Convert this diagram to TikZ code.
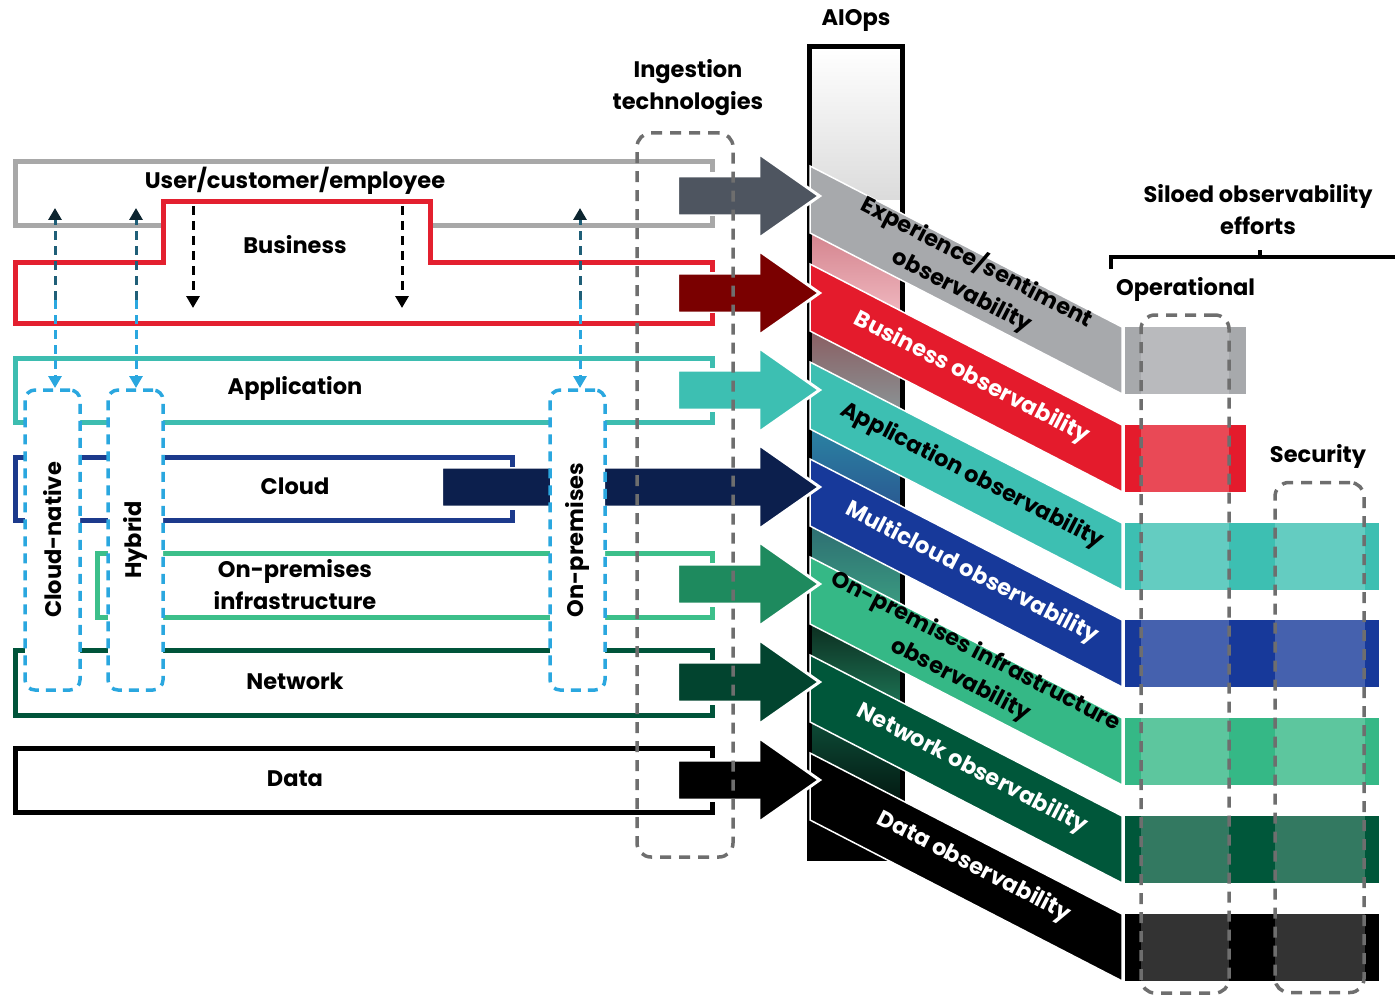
\documentclass[tikz,border=0pt]{standalone}
\usepackage{fontspec}
\setmainfont{Poppins}
\usetikzlibrary{arrows.meta,shapes.arrows}

\definecolor{lanegray}{HTML}{A8A8A8}
\definecolor{lanered}{HTML}{E3202F}
\definecolor{laneteal}{HTML}{3DBDB0}
\definecolor{laneblue}{HTML}{1C3A8C}
\definecolor{lanegreen}{HTML}{3CBF8A}
\definecolor{lanedkgreen}{HTML}{00543A}
\definecolor{bgray}{HTML}{A7A9AC}
\definecolor{bred}{HTML}{E41B2C}
\definecolor{bteal}{HTML}{3DBFB2}
\definecolor{bblue}{HTML}{17399A}
\definecolor{bgreen}{HTML}{35B886}
\definecolor{bdkgreen}{HTML}{00573A}
\definecolor{bblack}{HTML}{000000}
\definecolor{agray}{HTML}{4E5560}
\definecolor{ared}{HTML}{7A0000}
\definecolor{anavy}{HTML}{0C1F4D}
\definecolor{agreen}{HTML}{1E8A5E}
\definecolor{adkgreen}{HTML}{02442F}
\definecolor{dashcyan}{HTML}{2AA7DF}
\definecolor{dashteal}{HTML}{1F5F78}
\definecolor{tipdark}{HTML}{0D2530}
\definecolor{dashgray}{HTML}{6E6E6E}

\tikzset{
    lbl/.style={font=\bfseries\fontsize{22.5}{32}\selectfont, align=center, inner sep=0pt},
    lane/.style={line width=5pt},
    vbox/.style={draw=dashcyan, fill=white, line width=3.5pt, dash pattern=on 10pt off 7pt,
        rounded corners=10pt, minimum width=55pt, minimum height=300pt, inner sep=0pt},
    gbox/.style={draw=dashgray, line width=3.5pt, dash pattern=on 11pt off 8pt,
        rounded corners=14pt, inner sep=0pt},
    blockarrow/.style={single arrow, draw=white, line width=3pt, inner xsep=0pt, inner ysep=18.5pt,
        single arrow head extend=22.5pt, single arrow tip angle=70, anchor=west},
    updash/.style={line width=3pt, dash pattern=on 9pt off 6pt},
}

\begin{document}
\begin{tikzpicture}[x=1pt, y=-1pt]
    \useasboundingbox (0,0) rectangle (1395,995);

    % AIOps column
    \shade[top color=white, bottom color=black!14] (810,48) rectangle (902,200);
    \fill[black] (810,800) rectangle (902,858);
    \foreach \ra/\rb/\ca/\cb in {327/425/D4848E/EFB6BE, 425/523/8A5E62/8A9294, 523/620/2A82A2/2A5A92,
        620/718/2E6E72/3A9A80, 718/816/0C2E20/1C7052, 816/914/0D4A36/031A12} {
        \definecolor{gtop}{HTML}{\ca}
        \definecolor{gbot}{HTML}{\cb}
        \shade[top color=gtop, bottom color=gbot] (810,\ra-94) -- (902,\ra-47) -- (902,\rb-114) -- (810,\rb-161) -- cycle;
    }
    \draw[line width=5pt] (809.5,46.5) rectangle (902.5,858);
    \node[lbl, anchor=south] (aiops) at (856,32) {AIOps};

    % slanted bands
    \foreach \r/\c in {327/bgray, 425/bred, 523/bteal, 620/bblue, 718/bgreen, 816/bdkgreen, 914/bblack}
        \filldraw[fill=\c, draw=white, line width=1.5pt] (810,\r-161) -- (1122,\r) -- (1122,\r+67) -- (810,\r-94) -- cycle;

    \node[lbl, rotate=-27.3] (obsux) at (970,276) {Experience/sentiment\\observability};
    \node[lbl, rotate=-27.3, text=white] (obsbiz) at (972,378) {Business observability};
    \node[lbl, rotate=-27.3] (obsapp) at (972,476) {Application observability};
    \node[lbl, rotate=-27.3, text=white] (obscloud) at (972,573) {Multicloud observability};
    \node[lbl, rotate=-27.3] (obsonprem) at (968,666) {On-premises infrastructure\\observability};
    \node[lbl, rotate=-27.3, text=white] (obsnet) at (972,769) {Network observability};
    \node[lbl, rotate=-27.3, text=white] (obsdata) at (974,867) {Data observability};

    % block arrows
    \node[blockarrow, fill=agray, minimum height=142pt] (arrux) at (676,196) {};
    \node[blockarrow, fill=ared, minimum height=142pt] (arrbiz) at (676,293) {};
    \node[blockarrow, fill=bteal, minimum height=142pt] (arrapp) at (676,390) {};
    \node[blockarrow, fill=anavy, minimum height=378pt] (arrcloud) at (440,487) {};
    \node[blockarrow, fill=agreen, minimum height=142pt] (arronprem) at (676,584) {};
    \node[blockarrow, fill=adkgreen, minimum height=142pt] (arrnet) at (676,682) {};
    \node[blockarrow, fill=black, minimum height=142pt] (arrdata) at (676,780) {};

    % lanes
    \draw[lane, lanegray] (712,172) -- (712,162) -- (15,162) -- (15,226) -- (163,226);
    \draw[lane, lanegray] (430,226) -- (712,226) -- (712,216);
    \draw[lane, lanered] (712,272) -- (712,262) -- (430,262) -- (430,202) -- (163,202) -- (163,262)
        -- (15,262) -- (15,323) -- (712,323) -- (712,313);
    \draw[lane, laneteal] (712,368) -- (712,358) -- (15,358) -- (15,422) -- (712,422) -- (712,412);
    \draw[lane, laneblue] (512,467) -- (512,457) -- (15,457) -- (15,520) -- (512,520) -- (512,510);
    \draw[lane, lanegreen] (712,563) -- (712,553) -- (97,553) -- (97,617) -- (712,617) -- (712,607);
    \draw[lane, lanedkgreen] (712,660) -- (712,650) -- (15,650) -- (15,715) -- (712,715) -- (712,705);
    \draw[lane, black] (712,758) -- (712,748) -- (15,748) -- (15,812) -- (712,812) -- (712,802);

    \node[lbl] (ux) at (295,181) {User/customer/employee};
    \node[lbl] (biz) at (295,245) {Business};
    \node[lbl] (app) at (295,388) {Application};
    \node[lbl] (cloud) at (295,486) {Cloud};
    \node[lbl] (onprem) at (295,585) {On-premises\\infrastructure};
    \node[lbl] (net) at (295,681) {Network};
    \node[lbl] (data) at (295,779) {Data};

    % deployment boxes
    \node[vbox] (cn) at (52.5,540) {\rotatebox{90}{\bfseries\fontsize{22.5}{25}\selectfont Cloud-native}};
    \node[vbox] (hy) at (135.5,540) {\rotatebox{90}{\bfseries\fontsize{22.5}{25}\selectfont Hybrid}};
    \node[vbox] (op) at (577.5,540) {\rotatebox{90}{\bfseries\fontsize{22.5}{25}\selectfont On-premises}};

    \foreach \n/\x in {cn/55, hy/136, op/580} {
        \coordinate (\n top) at (\x,208);
        \coordinate (\n mid) at (\x,300);
        \draw[updash, dashteal, -{Triangle[width=13pt,length=12pt,fill=tipdark,color=tipdark]}] (\n mid) -- (\n top);
        \draw[updash, dashcyan, -{Triangle[width=13pt,length=12pt]}] (\n mid) -- (\x,388);
    }

    \foreach \n/\x in {b1/193, b2/402} {
        \coordinate (\n top) at (\x,206);
        \coordinate (\n bot) at (\x,308);
        \draw[updash, black, -{Triangle[width=13pt,length=12pt]}] (\n top) -- (\n bot);
    }

    % ingestion
    \node[gbox, minimum width=96pt, minimum height=724pt] (ingest) at (685,495) {};
    \node[lbl, anchor=south] (ingestlbl) at (688,116) {Ingestion\\technologies};

    % siloed efforts
    \foreach \y/\c/\w in {327/bgray/1246, 425/bred/1246, 523/bteal/1379, 620/bblue/1379,
        718/bgreen/1379, 816/bdkgreen/1379, 914/bblack/1379} {
        \fill[\c] (1125,\y) rectangle (\w,\y+67);
        \fill[\c!80!white] (1141,\y) rectangle (1229,\y+67);
        \ifnum\w>1300 \fill[\c!80!white] (1275,\y) rectangle (1365,\y+67); \fi
    }
    \node[gbox, minimum width=88pt, minimum height=678pt] (opbox) at (1185,654) {};
    \node[gbox, minimum width=89pt, minimum height=510pt] (secbox) at (1319.5,737.5) {};

    \node[lbl] (siloed) at (1258,210) {Siloed observability\\efforts};
    \draw[line width=4pt] (1111,269) -- (1111,257) -- (1395,257);
    \draw[line width=4pt] (1260,257) -- (1260,250);
    \node[lbl, anchor=west] (oplbl) at (1116,289) {Operational};
    \node[lbl] (seclbl) at (1318,456) {Security};
\end{tikzpicture}
\end{document}
